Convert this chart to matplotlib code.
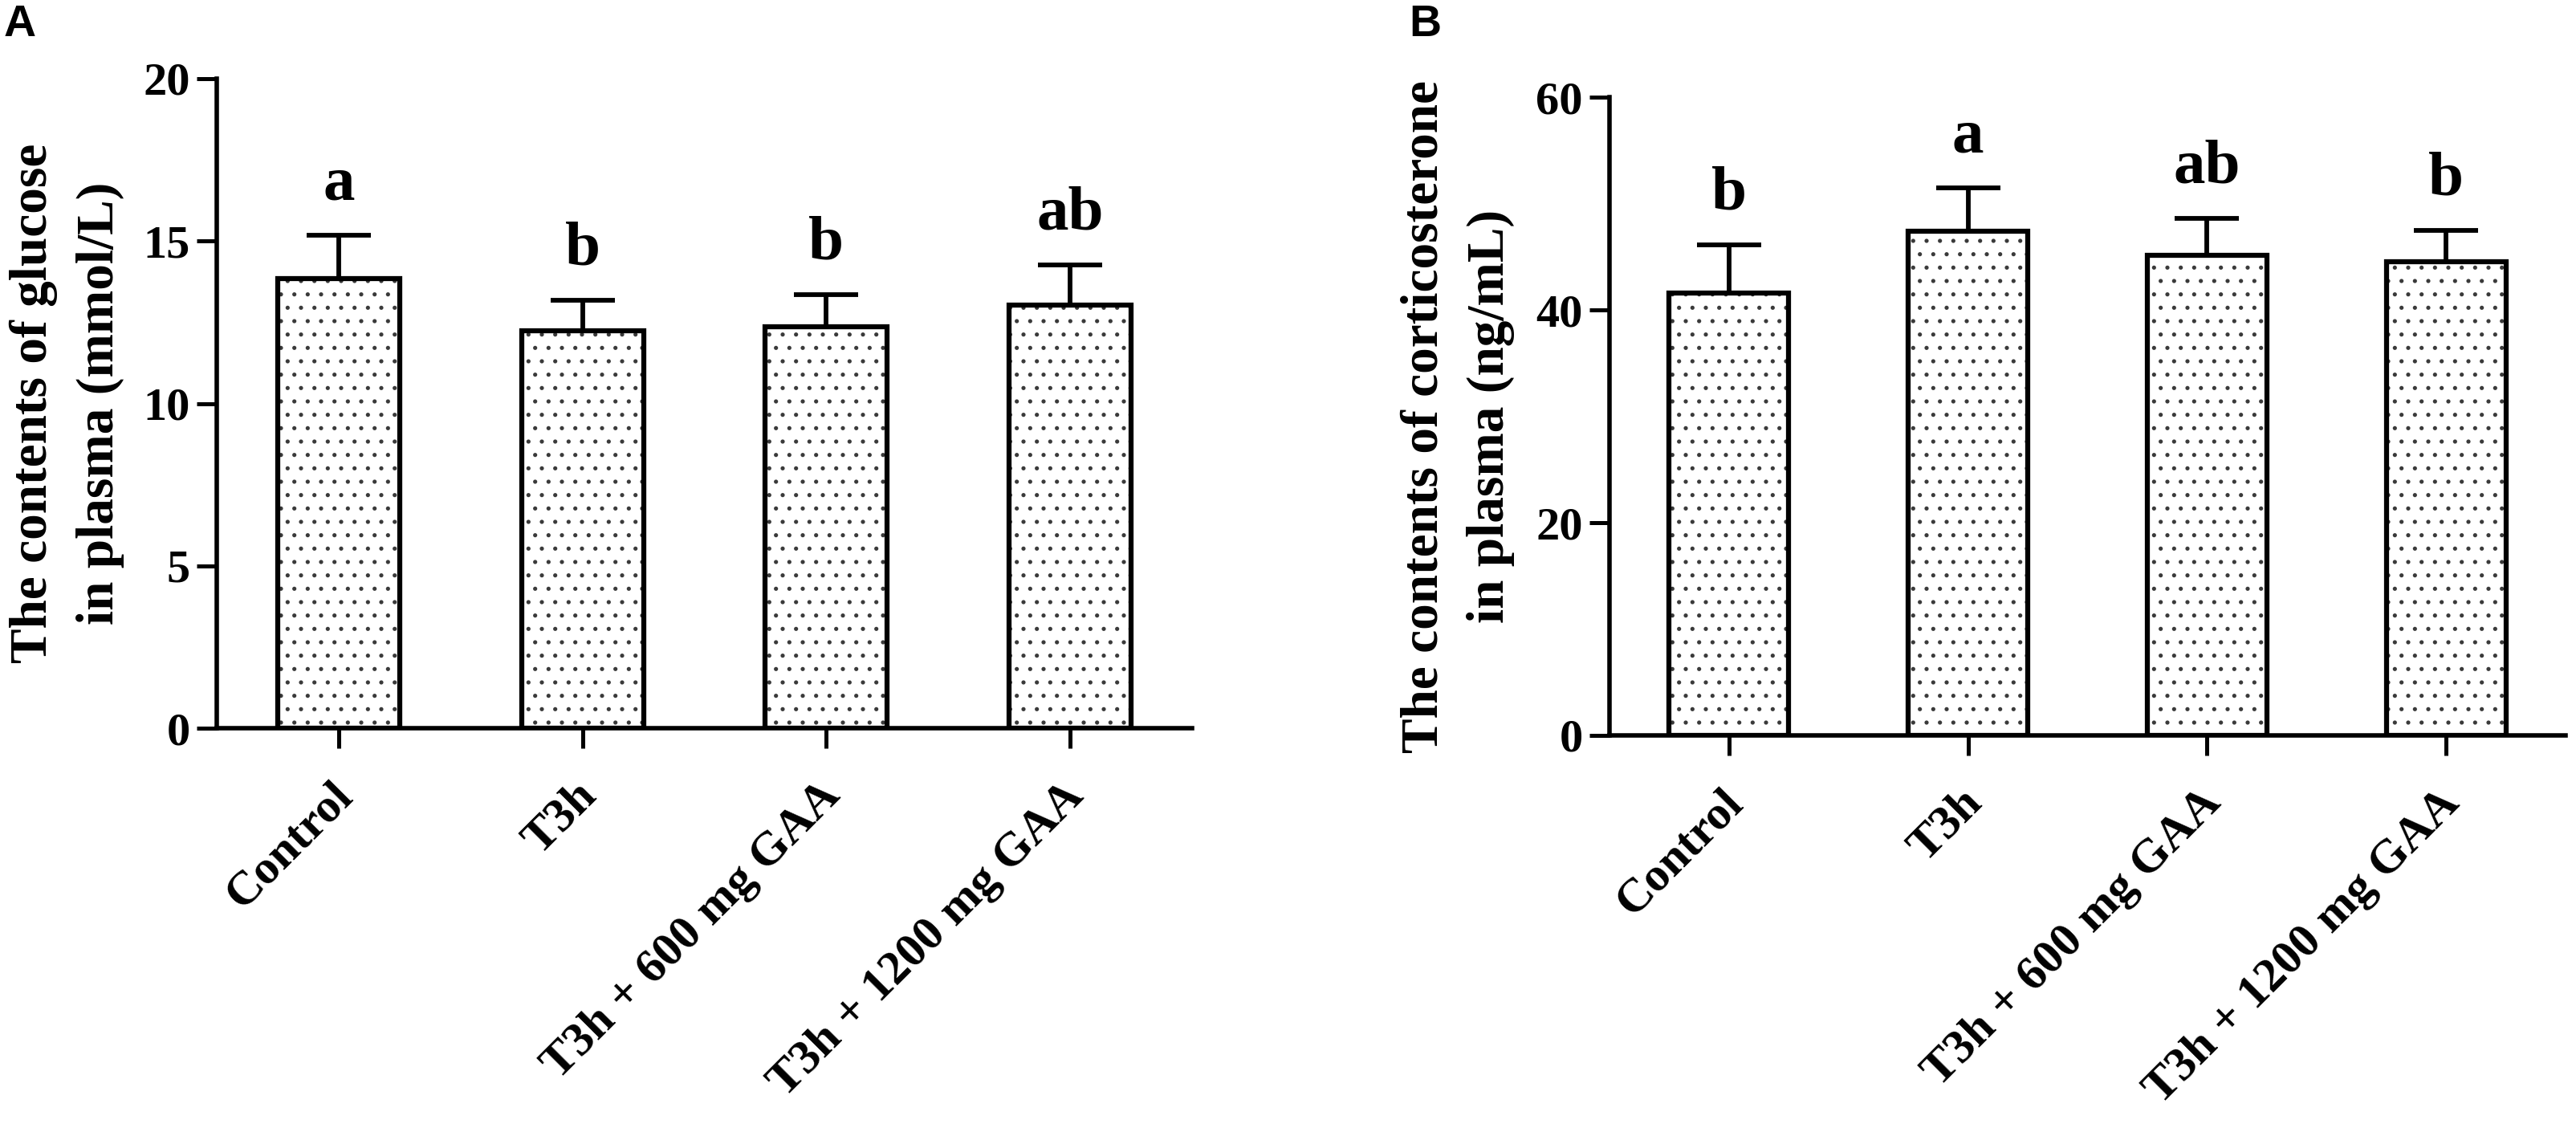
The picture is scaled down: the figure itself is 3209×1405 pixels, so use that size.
import numpy as np
import matplotlib
matplotlib.use('Agg')
import matplotlib.pyplot as plt
from matplotlib.transforms import ScaledTranslation

# group names and values (mean and upper error)
groups = ['Control', 'T3h', 'T3h + 600 mg GAA', 'T3h + 1200 mg GAA']

glucose_mean = [13.84, 12.23, 12.35, 13.04]
glucose_sd = [1.33, 0.94, 0.99, 1.22]
glucose_letters = ['a', 'b', 'b', 'ab']
glucose_ticks = [0, 5, 10, 15, 20]

cort_mean = [41.6, 47.4, 45.1, 44.5]
cort_sd = [4.5, 4.1, 3.5, 3.0]
cort_letters = ['b', 'a', 'ab', 'b']
cort_ticks = [0, 20, 40, 60]

plt.rcParams['font.family'] = ['Liberation Serif', 'DejaVu Serif']
plt.rcParams['font.weight'] = 'bold'
plt.rcParams['axes.labelweight'] = 'bold'
plt.rcParams['hatch.linewidth'] = 1.3

W, H = 3209, 1405
fig = plt.figure(figsize=(W / 100, H / 100), dpi=100)


def axes_px(left, right, top, bottom):
    return fig.add_axes([left / W, 1 - bottom / H, (right - left) / W, (bottom - top) / H])


def draw_panel(ax, means, sds, letters, ticks, ylabel, label_x):
    x = np.arange(len(groups))
    # dotted fill, then a black outline on top
    ax.bar(x, means, width=0.5, color='white', edgecolor='#3a3a3a',
           hatch='.', linewidth=0, zorder=2)
    ax.bar(x, means, width=0.5, fill=False, edgecolor='black',
           linewidth=4.5, zorder=3)
    ax.errorbar(x, means, yerr=[np.zeros(len(sds)), sds], fmt='none',
                ecolor='black', elinewidth=4.2, capsize=29, capthick=4.2,
                zorder=1)
    for xi, m, s, let in zip(x, means, sds, letters):
        ax.annotate(let, (xi, m + s), xytext=(0, 32), textcoords='offset points',
                    ha='center', va='baseline', fontsize=57, fontweight='bold',
                    annotation_clip=False)

    ax.set_xlim(-0.5, 3.5)
    ax.set_ylim(ticks[0], ticks[-1])
    ax.set_yticks(ticks)
    ax.set_xticks(x)
    ax.set_xticklabels(groups, rotation=45, ha='right', va='center',
                       rotation_mode='anchor', fontsize=43, fontweight='bold')
    ax.tick_params(axis='y', labelsize=42, length=18, width=3.6, pad=6)
    ax.tick_params(axis='x', length=18, width=3.6, pad=37)
    shift = ScaledTranslation(9 / 100, 0, fig.dpi_scale_trans)
    for lab in ax.get_xticklabels():
        lab.set_transform(lab.get_transform() + shift)
    for lab in ax.get_yticklabels():
        lab.set_fontweight('bold')

    for side in ['top', 'right']:
        ax.spines[side].set_visible(False)
    for side in ['left', 'bottom']:
        ax.spines[side].set_linewidth(4)

    ax.set_ylabel(ylabel, fontsize=47, fontweight='bold', linespacing=1.5)
    ax.yaxis.set_label_coords(label_x, 0.5)


axA = axes_px(270, 1485, 98, 907)
axB = axes_px(2005, 3196, 121, 916)

draw_panel(axA, glucose_mean, glucose_sd, glucose_letters, glucose_ticks,
           'The contents of glucose\nin plasma (mmol/L)', -0.0947)
draw_panel(axB, cort_mean, cort_sd, cort_letters, cort_ticks,
           'The contents of corticosterone\nin plasma (ng/mL)', -0.099)

fig.text(5 / W, 1 - 5 / H, 'A', family=['Liberation Sans', 'DejaVu Sans'],
         fontsize=40, fontweight='bold', ha='left', va='top')
fig.text(1755 / W, 1 - 5 / H, 'B', family=['Liberation Sans', 'DejaVu Sans'],
         fontsize=40, fontweight='bold', ha='left', va='top')

fig.savefig('out.png', dpi=100)
